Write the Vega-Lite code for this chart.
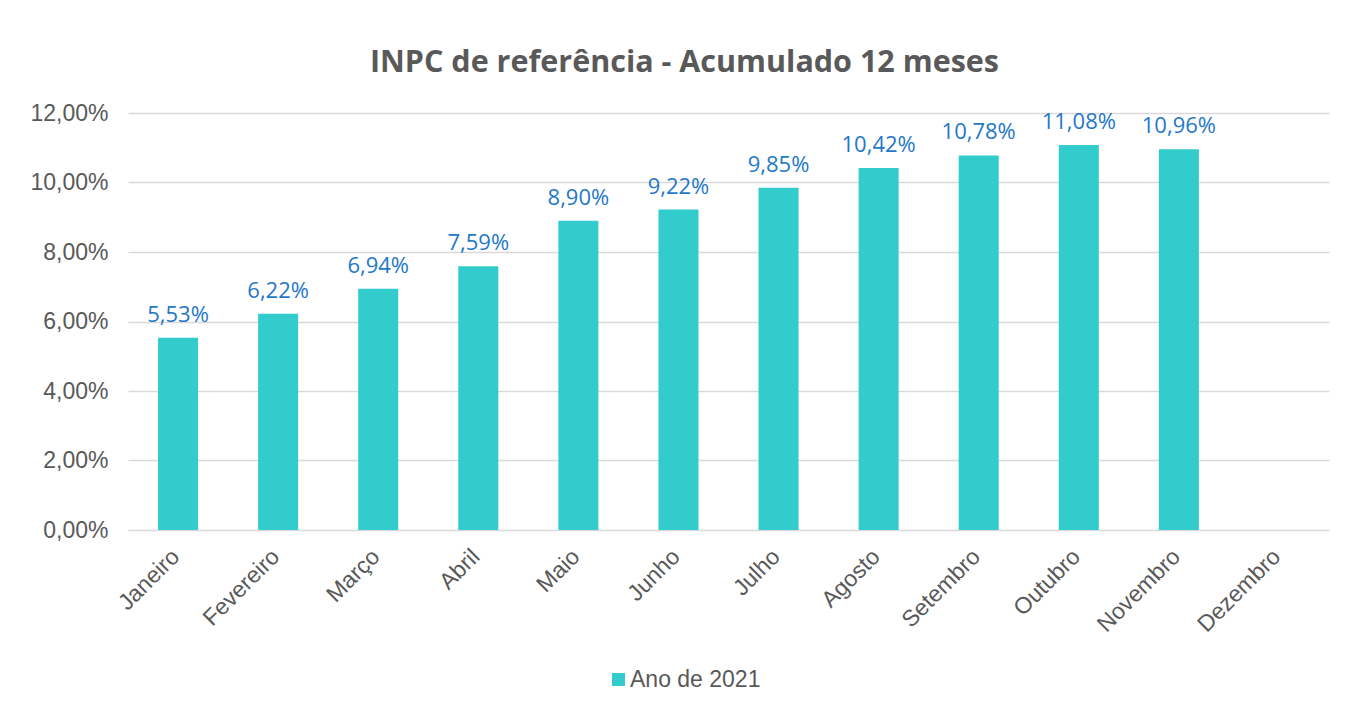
{
  "$schema": "https://vega.github.io/schema/vega-lite/v6.json",
  "width": 1201,
  "height": 417,
  "autosize": "none",
  "padding": {"left": 128, "top": 113, "right": 17, "bottom": 176},
  "background": "white",
  "title": {
    "text": "INPC de referência - Acumulado 12 meses",
    "anchor": "middle",
    "frame": "group",
    "dx": -44,
    "offset": 0,
    "baseline": "alphabetic",
    "font": "Open Sans",
    "fontSize": 30.5,
    "fontWeight": "bold",
    "color": "#595959"
  },
  "data": {
    "values": [
      {"mes": "Janeiro", "valor": 0.0553, "serie": "Ano de 2021"},
      {"mes": "Fevereiro", "valor": 0.0622, "serie": "Ano de 2021"},
      {"mes": "Março", "valor": 0.0694, "serie": "Ano de 2021"},
      {"mes": "Abril", "valor": 0.0759, "serie": "Ano de 2021"},
      {"mes": "Maio", "valor": 0.0890, "serie": "Ano de 2021"},
      {"mes": "Junho", "valor": 0.0922, "serie": "Ano de 2021"},
      {"mes": "Julho", "valor": 0.0985, "serie": "Ano de 2021"},
      {"mes": "Agosto", "valor": 0.1042, "serie": "Ano de 2021"},
      {"mes": "Setembro", "valor": 0.1078, "serie": "Ano de 2021"},
      {"mes": "Outubro", "valor": 0.1108, "serie": "Ano de 2021"},
      {"mes": "Novembro", "valor": 0.1096, "serie": "Ano de 2021"}
    ]
  },
  "encoding": {
    "x": {
      "field": "mes",
      "type": "nominal",
      "sort": null,
      "scale": {
        "domain": ["Janeiro", "Fevereiro", "Março", "Abril", "Maio", "Junho", "Julho", "Agosto", "Setembro", "Outubro", "Novembro", "Dezembro"],
        "paddingInner": 0.6,
        "paddingOuter": 0.3
      },
      "axis": {
        "title": null,
        "labelAngle": -45,
        "labelAlign": "right",
        "labelBaseline": "top",
        "labelFont": "Liberation Sans",
        "labelFontSize": 23,
        "labelColor": "#595959",
        "labelPadding": 15,
        "labelOffset": -10,
        "ticks": false,
        "domain": false
      }
    },
    "y": {
      "field": "valor",
      "type": "quantitative",
      "scale": {"domain": [0, 0.12], "nice": false},
      "axis": {
        "title": null,
        "format": ".2%",
        "values": [0, 0.02, 0.04, 0.06, 0.08, 0.1, 0.12],
        "labelFont": "Liberation Sans",
        "labelFontSize": 23,
        "labelColor": "#595959",
        "labelPadding": 20,
        "ticks": false,
        "domain": false,
        "gridColor": "#D9D9D9",
        "gridWidth": 1.5
      }
    }
  },
  "layer": [
    {
      "mark": {"type": "bar"},
      "encoding": {
        "color": {
          "field": "serie",
          "type": "nominal",
          "scale": {"range": ["#33CCCC"]},
          "legend": {
            "title": null,
            "orient": "none",
            "legendX": 479,
            "legendY": 555,
            "padding": 0,
            "symbolType": "square",
            "symbolSize": 169,
            "symbolStrokeWidth": 0,
            "labelFont": "Liberation Sans",
            "labelFontSize": 23,
            "labelColor": "#595959",
            "labelOffset": 0
          }
        }
      }
    },
    {
      "mark": {
        "type": "text",
        "baseline": "alphabetic",
        "dy": -16,
        "font": "Open Sans",
        "fontSize": 22,
        "color": "#1F78C8"
      },
      "encoding": {
        "text": {"field": "valor", "type": "quantitative", "format": ".2%"}
      }
    }
  ],
  "config": {
    "locale": {
      "number": {"decimal": ",", "thousands": ".", "grouping": [3], "currency": ["R$", ""]}
    },
    "view": {"stroke": null}
  }
}
